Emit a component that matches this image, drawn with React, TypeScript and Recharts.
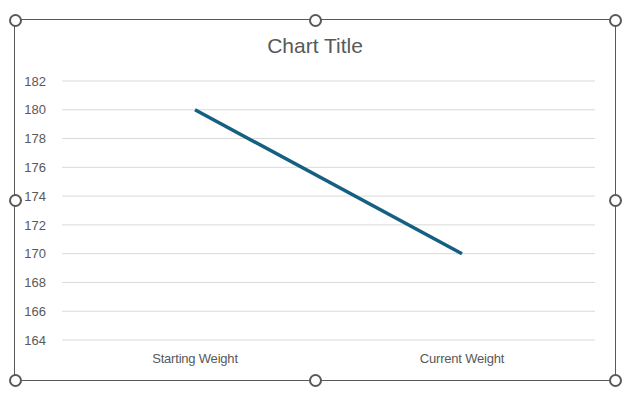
import { LineChart, Line, XAxis, YAxis, CartesianGrid } from 'recharts';

const categories = ['Starting Weight', 'Current Weight'];
const weights = [180, 170];
const yTicks = [164, 166, 168, 170, 172, 174, 176, 178, 180, 182];

const data = categories.map((name, i) => ({ name, weight: weights[i] }));

const font = '"Liberation Sans", Roboto, sans-serif';
const grey = '#595959';

const handles = [
  [15, 20], [315, 20], [615, 20],
  [15, 200], [615, 200],
  [15, 380], [315, 380], [615, 380],
];

export default function App() {
  return (
    <div style={{ position: 'fixed', left: 0, top: 0, width: 634, height: 397, background: '#fff' }}>
      <div
        style={{
          position: 'absolute',
          left: 14,
          top: 19,
          width: 602,
          height: 362,
          border: `1.5px solid ${grey}`,
          boxSizing: 'border-box',
        }}
      />
      <div
        style={{
          position: 'absolute',
          left: 0,
          width: 630,
          top: 34,
          textAlign: 'center',
          fontFamily: font,
          fontSize: 21,
          color: grey,
        }}
      >
        Chart Title
      </div>
      <div style={{ position: 'absolute', left: 0, top: 0 }}>
        <LineChart
          width={634}
          height={397}
          data={data}
          margin={{ top: 81, right: 39, left: 0, bottom: 27 }}
        >
          <CartesianGrid vertical={false} stroke="#d9d9d9" strokeWidth={1} />
          <XAxis
            dataKey="name"
            axisLine={false}
            tickLine={false}
            height={30}
            tickMargin={8}
            padding={{ left: 133, right: 133 }}
            tick={{ fill: grey, fontSize: 13, fontFamily: font, letterSpacing: -0.2 }}
          />
          <YAxis
            domain={[164, 182]}
            ticks={yTicks}
            width={62}
            axisLine={false}
            tickLine={false}
            tickMargin={10}
            interval={0}
            tick={{ fill: grey, fontSize: 13, fontFamily: font }}
          />
          <Line
            type="linear"
            dataKey="weight"
            stroke="#156082"
            strokeWidth={3.5}
            dot={false}
            isAnimationActive={false}
          />
        </LineChart>
      </div>
      {handles.map(([x, y], i) => (
        <div
          key={i}
          style={{
            position: 'absolute',
            left: x - 6.5,
            top: y - 6.5,
            width: 13,
            height: 13,
            borderRadius: '50%',
            border: `2.5px solid ${grey}`,
            background: '#fff',
            boxSizing: 'border-box',
          }}
        />
      ))}
    </div>
  );
}
